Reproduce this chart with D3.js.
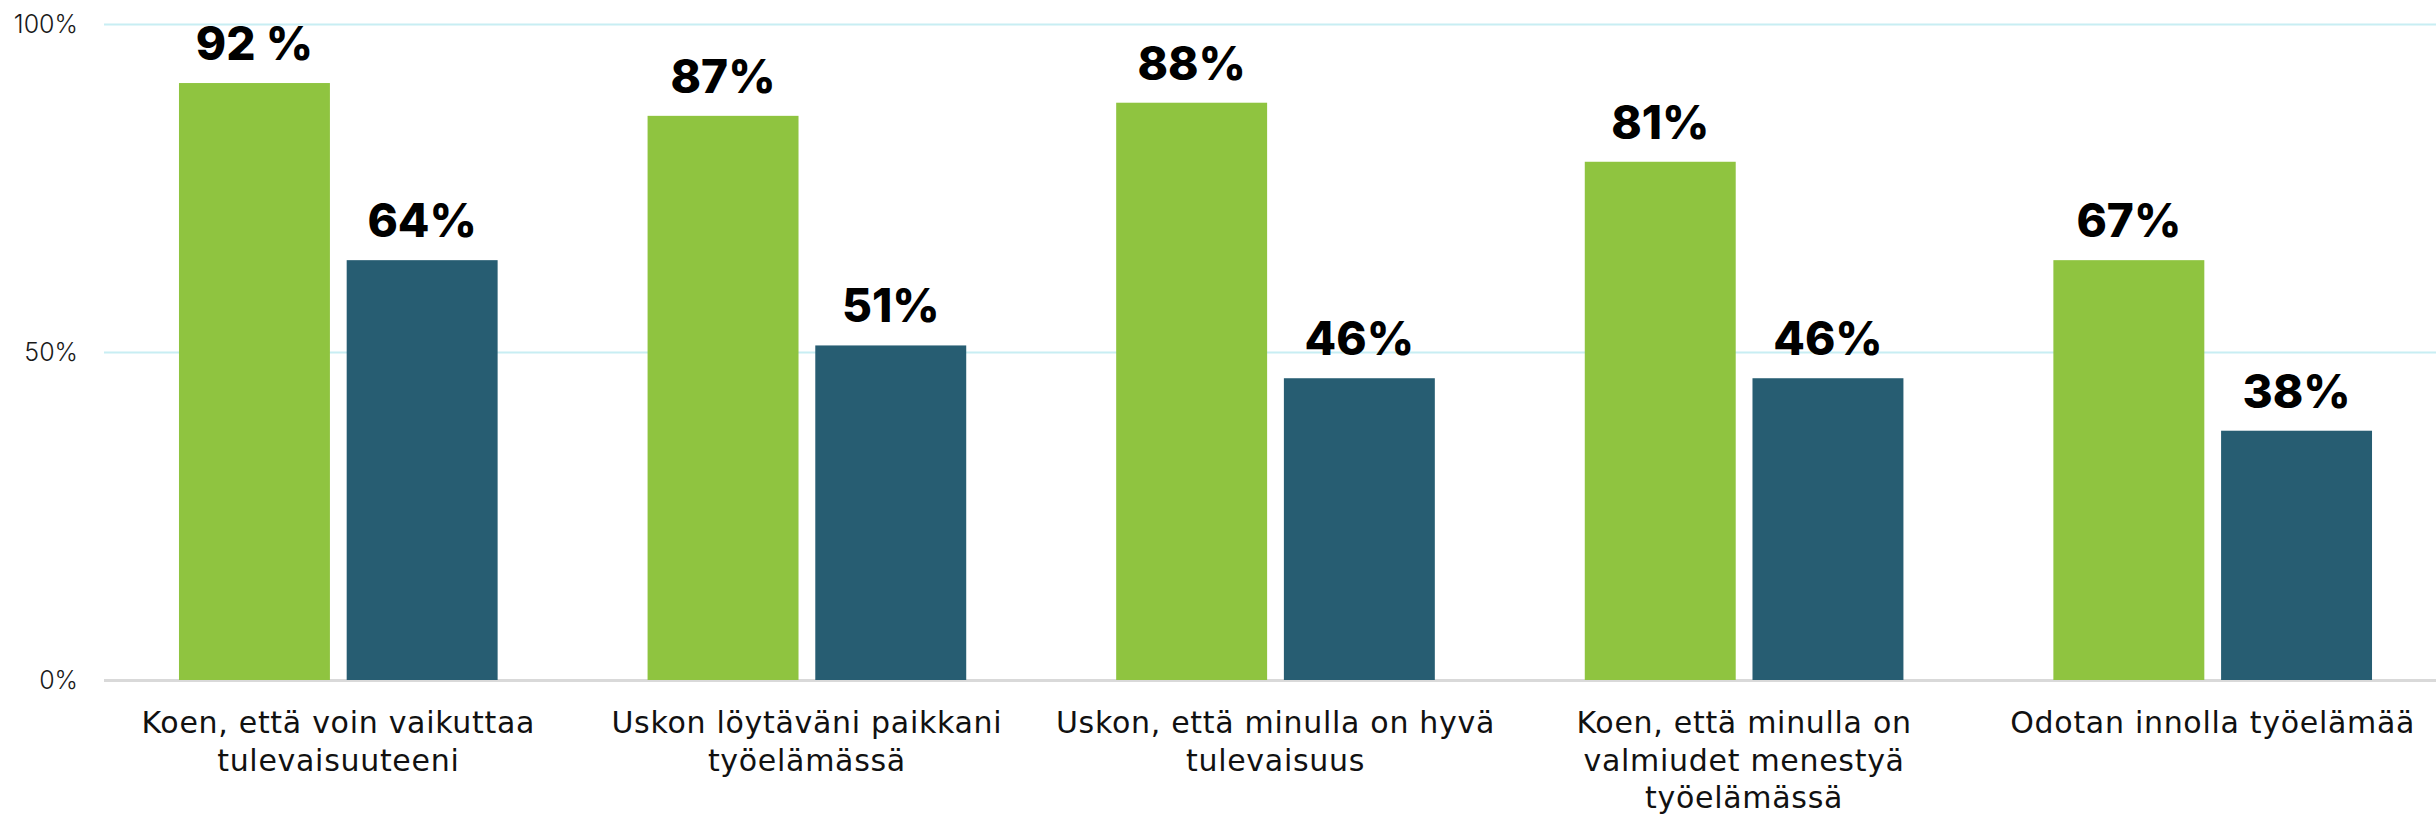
<!DOCTYPE html>
<html>
<head>
<meta charset="utf-8">
<script src="https://cdn.jsdelivr.net/npm/d3@7"></script>
<style>
  body { margin: 0; background: #fff; }
  svg { display: block; }
</style>
</head>
<body>
<div id="chart"></div>
<script>
// categories, wrapped the way the original shows them
var categories = [
    "Koen, että voin vaikuttaa tulevaisuuteeni",
    "Uskon löytäväni paikkani työelämässä",
    "Uskon, että minulla on hyvä tulevaisuus",
    "Koen, että minulla on valmiudet menestyä työelämässä",
    "Odotan innolla työelämää"
];
var categoryLines = [
    ["Koen, että voin vaikuttaa", "tulevaisuuteeni"],
    ["Uskon löytäväni paikkani", "työelämässä"],
    ["Uskon, että minulla on hyvä", "tulevaisuus"],
    ["Koen, että minulla on", "valmiudet menestyä", "työelämässä"],
    ["Odotan innolla työelämää"]
];
var series = ["green", "blue"];

// bar heights and the printed labels
var greenValues = [91, 86, 88, 79, 64];
var blueValues = [64, 51, 46, 46, 38];
var greenLabels = ["92 %", "87%", "88%", "81%", "67%"];
var blueLabels = ["64%", "51%", "46%", "46%", "38%"];

var yTicks = [0, 50, 100];

var width = 2436;
var height = 816;
var margin = {left: 104, right: 0, top: 24, bottom: 136};

var colors = {green: "#8fc440", blue: "#275d72"};

var svg = d3.select("#chart")
    .append("svg")
    .attr("width", width)
    .attr("height", height);

// the band range runs a little past the right edge, as in the original
var x0 = d3.scaleBand()
    .domain(categories)
    .range([margin.left, margin.left + 5 * 468.6])
    .paddingInner(0.32)
    .paddingOuter(0.16);

var x1 = d3.scaleBand()
    .domain(series)
    .range([0, x0.bandwidth()])
    .paddingInner(0.1);

var y = d3.scaleLinear()
    .domain([0, 100])
    .range([height - margin.bottom, margin.top]);

// y axis with gridlines
var yAxis = svg.append("g")
    .attr("transform", "translate(" + margin.left + ",0)")
    .call(d3.axisLeft(y)
        .tickValues(yTicks)
        .tickSize(-(width - margin.left - margin.right))
        .tickPadding(26)
        .tickFormat(function (d) { return d + "%"; }));

yAxis.select(".domain").remove();
yAxis.selectAll(".tick line")
    .attr("stroke", function (d) { return d === 0 ? "#d9d9d9" : "#c8eef3"; })
    .attr("stroke-width", function (d) { return d === 0 ? 3 : 2; });
yAxis.selectAll(".tick text")
    .attr("fill", "#1a1a1a")
    .style("font-family", "Inter, 'Noto Sans', sans-serif")
    .style("font-weight", 300)
    .style("font-size", "25px");

// one group per category
var rows = categories.map(function (c, i) {
    return {
        cat: c,
        bars: [
            {key: "green", value: greenValues[i], label: greenLabels[i]},
            {key: "blue", value: blueValues[i], label: blueLabels[i]}
        ]
    };
});

var groups = svg.selectAll("g.group")
    .data(rows)
    .enter()
    .append("g")
    .attr("class", "group")
    .attr("transform", function (d) { return "translate(" + x0(d.cat) + ",0)"; });

groups.selectAll("rect")
    .data(function (d) { return d.bars; })
    .enter()
    .append("rect")
    .attr("x", function (d) { return x1(d.key); })
    .attr("y", function (d) { return y(d.value); })
    .attr("width", x1.bandwidth())
    .attr("height", function (d) { return y(0) - y(d.value); })
    .style("fill", function (d) { return colors[d.key]; });

groups.selectAll("text.value")
    .data(function (d) { return d.bars; })
    .enter()
    .append("text")
    .attr("class", "value")
    .attr("x", function (d) { return x1(d.key) + x1.bandwidth() / 2; })
    .attr("y", function (d) { return y(d.value) - 23; })
    .attr("text-anchor", "middle")
    .style("font-family", "Inter, 'Noto Sans', sans-serif")
    .style("font-weight", 800)
    .style("font-size", "46px")
    .style("fill", "#000")
    .text(function (d) { return d.label; });

// category labels under the bars
var xAxis = svg.append("g")
    .attr("transform", "translate(0," + (height - margin.bottom) + ")")
    .call(d3.axisBottom(x0).tickSize(0).tickFormat(""));

xAxis.select(".domain").remove();

xAxis.selectAll(".tick").each(function (d, i) {
    var t = d3.select(this).append("text")
        .attr("text-anchor", "middle")
        .attr("fill", "#111")
        .style("font-family", "'DejaVu Sans', Inter, sans-serif")
        .style("font-weight", 400)
        .style("font-size", "30px")
        .style("letter-spacing", "0.7px");
    t.selectAll("tspan")
        .data(categoryLines[i])
        .enter()
        .append("tspan")
        .attr("x", 0)
        .attr("y", function (l, j) { return 53 + j * 37.5; })
        .text(function (l) { return l; });
});
</script>
</body>
</html>
